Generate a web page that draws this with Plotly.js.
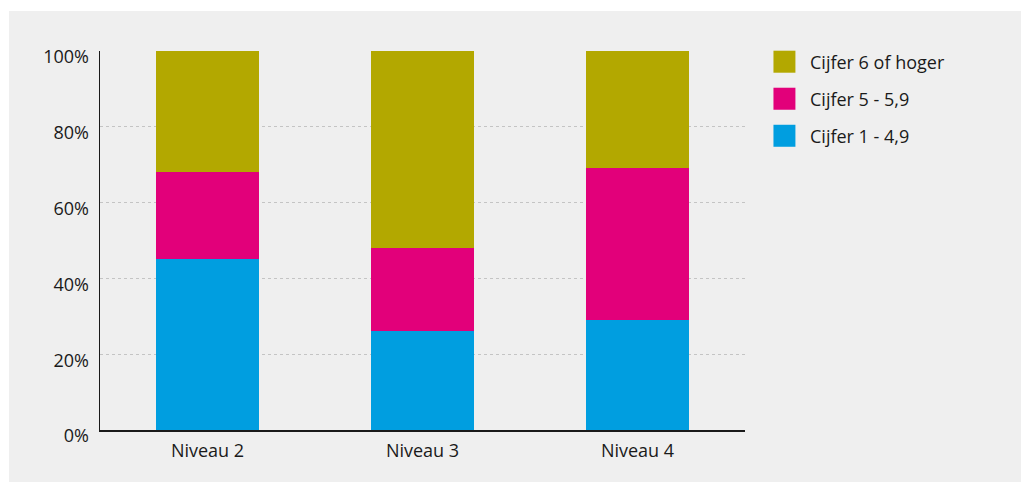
<!DOCTYPE html>
<html>
<head>
<meta charset="utf-8">
<script src="https://cdn.plot.ly/plotly-3.0.1.min.js"></script>
<style>
  html, body { margin: 0; padding: 0; background: #ffffff; }
  #chart { position: absolute; left: 9px; top: 11px; width: 1012px; height: 471px; }
</style>
</head>
<body>
<div id="chart"></div>
<script>
// Data (percentages, stacked to 100%)
const categories = ["Niveau 2", "Niveau 3", "Niveau 4"];
const seriesNames = ["Cijfer 1 - 4,9", "Cijfer 5 - 5,9", "Cijfer 6 of hoger"];
const cijfer1to49 = [45, 26, 29];
const cijfer5to59 = [23, 22, 40];
const cijfer6plus = [32, 52, 31];
const colors = ["#009ee0", "#e2007a", "#b3a800"];
const yTickVals = [0, 20, 40, 60, 80, 100];
const yTickText = ["0%", "20%", "40%", "60%", "80%", "100%"];

const seriesValues = [cijfer1to49, cijfer5to59, cijfer6plus];
const traces = seriesValues.map((vals, i) => ({
  type: "bar",
  x: categories,
  y: vals,
  name: seriesNames[i],
  marker: { color: colors[i], line: { width: 0 } },
  hoverinfo: "x+y+name",
  showlegend: false
}));

// plot area geometry (inside the div)
const W = 1012, H = 471;
const m = { l: 90.5, r: 275.5, t: 40.3, b: 52 };
const pw = W - m.l - m.r, ph = H - m.t - m.b;
const px2x = p => (p - 9 - m.l) / pw;
const py2y = p => (H - m.b - (p - 11)) / ph;

// manual legend: top entry = last series
const shapes = [];
const annotations = [];
const legendOrder = [2, 1, 0];
legendOrder.forEach((si, k) => {
  const top = 51 + k * 37;
  shapes.push({
    type: "rect", xref: "paper", yref: "paper",
    x0: px2x(774), x1: px2x(796), y0: py2y(top + 22), y1: py2y(top),
    fillcolor: colors[si], line: { width: 0 }
  });
  annotations.push({
    xref: "paper", yref: "paper",
    x: px2x(809), y: py2y(top + 11),
    xanchor: "left", yanchor: "middle",
    text: seriesNames[si], showarrow: false,
    font: { family: "Open Sans", size: 18, color: "#1a1a1a" }
  });
});

const layout = {
  width: W, height: H,
  margin: m,
  paper_bgcolor: "#efefef",
  plot_bgcolor: "#efefef",
  barmode: "stack",
  bargap: 0.517,
  showlegend: false,
  font: { family: "Open Sans", size: 18, color: "#1a1a1a" },
  xaxis: {
    type: "category",
    range: [-0.5, 2.5],
    showline: true, linecolor: "#1a1a1a", linewidth: 1.5,
    showgrid: false, ticks: "", zeroline: false,
    tickfont: { family: "Open Sans", size: 18, color: "#1a1a1a" },
    ticklabelstandoff: 4,
    fixedrange: true
  },
  yaxis: {
    range: [0, 100],
    tickvals: yTickVals, ticktext: yTickText,
    showline: true, linecolor: "#1a1a1a", linewidth: 1.5,
    showgrid: true, gridcolor: "#c4c4c4", griddash: "3px,3px", gridwidth: 1,
    zeroline: false, ticks: "",
    tickfont: { family: "Open Sans", size: 18, color: "#1a1a1a" },
    ticklabelstandoff: 6,
    ticklabelshift: 6,
    fixedrange: true
  },
  shapes: shapes,
  annotations: annotations
};

Plotly.newPlot("chart", traces, layout, { displayModeBar: false, staticPlot: true });
</script>
</body>
</html>
